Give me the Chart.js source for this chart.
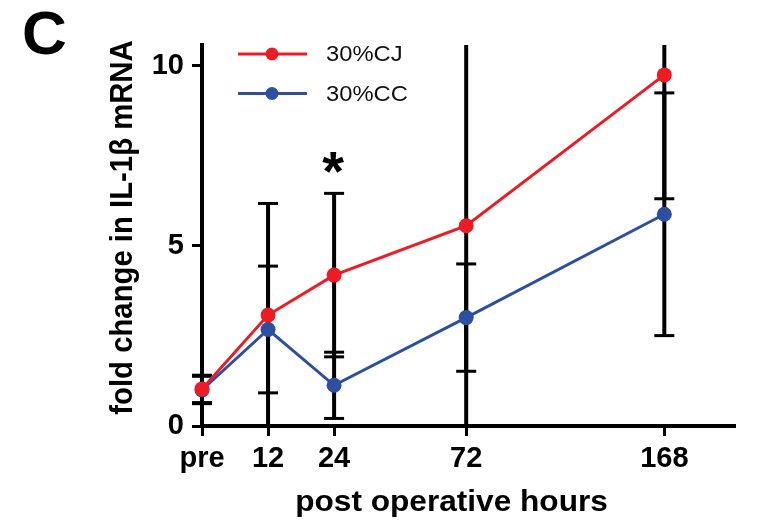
<!DOCTYPE html>
<html><head><meta charset="utf-8">
<script src="https://cdn.jsdelivr.net/npm/chart.js@4.4.1/dist/chart.umd.min.js"></script>
<style>html,body{margin:0;padding:0;background:#fff;} #wrap{width:759px;height:523px;position:relative;}</style>
</head><body><div id="wrap"><canvas id="c" width="759" height="523"></canvas></div>
<script>
// ---- data ----
const hourLabels = ['pre', '12', '24', '72', '168'];
const hourPos = [0, 1, 2, 4, 7];
const seriesNames = ['30%CJ', '30%CC'];
const cjMean = [1.03, 3.08, 4.19, 5.56, 9.75];
const cjSd   = [0.38, 3.10, 2.27, 6.00, 3.44];
const ccMean = [1.00, 2.68, 1.13, 3.01, 5.88];
const ccSd   = [0.38, 1.76, 0.92, 1.49, 3.37];
const yTicks = [0, 5, 10];
const xTitle = 'post operative hours';
const yTitle = 'fold change in IL-1β mRNA';
const panelLabel = 'C';
const sigIndex = [2];
const sigText = '*';

const RED = '#ED1C24';
const BLUE = '#2D4FA0';
const FONT = "'Liberation Sans', Arial, sans-serif";

const sds = [cjSd, ccSd];

const errorBars = {
  id: 'errorBars',
  beforeDatasetsDraw(chart) {
    const ctx = chart.ctx, xs = chart.scales.x, ys = chart.scales.y, a = chart.chartArea;
    ctx.save();
    ctx.strokeStyle = '#000';
    chart.data.datasets.forEach((ds, di) => {
      ds.data.forEach((p, i) => {
        const sd = sds[di][i];
        const x = xs.getPixelForValue(p.x);
        const hi = p.y + sd, lo = p.y - sd;
        const yHi = Math.max(ys.getPixelForValue(hi), a.top);
        const yLo = Math.min(ys.getPixelForValue(lo), a.bottom);
        ctx.lineWidth = 4;
        ctx.beginPath(); ctx.moveTo(x, yHi); ctx.lineTo(x, yLo); ctx.stroke();
        ctx.lineWidth = 3;
        [hi, lo].forEach(v => {
          const yy = ys.getPixelForValue(v);
          if (yy >= a.top && yy <= a.bottom) {
            ctx.beginPath(); ctx.moveTo(x - 10, yy); ctx.lineTo(x + 10, yy); ctx.stroke();
          }
        });
      });
    });
    ctx.restore();
  }
};

const decorations = {
  id: 'decorations',
  afterDraw(chart) {
    const ctx = chart.ctx, xs = chart.scales.x, ys = chart.scales.y, a = chart.chartArea;
    ctx.save();
    ctx.fillStyle = '#000';
    // panel label
    ctx.font = 'bold 62px ' + FONT;
    ctx.textAlign = 'left'; ctx.textBaseline = 'alphabetic';
    ctx.fillText(panelLabel, 22, 54);
    // x title
    ctx.save();
    ctx.translate((a.left + a.right) / 2 - 17, 511);
    ctx.scale(1.09, 1);
    ctx.font = 'bold 29px ' + FONT;
    ctx.textAlign = 'center';
    ctx.fillText(xTitle, 0, 0);
    ctx.restore();
    // y title
    ctx.save();
    ctx.translate(132, (a.top + a.bottom) / 2 - 8);
    ctx.scale(1.1, 1);
    ctx.rotate(-Math.PI / 2);
    ctx.font = 'bold 29.3px ' + FONT;
    ctx.textAlign = 'center';
    ctx.fillText(yTitle, 0, 0);
    ctx.restore();
    // significance mark
    ctx.font = 'bold 56px ' + FONT;
    ctx.textAlign = 'center';
    const m = ctx.measureText(sigText);
    sigIndex.forEach(i => {
      const x = xs.getPixelForValue(hourPos[i]);
      const top = ys.getPixelForValue(cjMean[i] + cjSd[i]) - 41;
      ctx.fillText(sigText, x - 1, top + m.actualBoundingBoxAscent);
    });
    // legend
    chart.data.datasets.forEach((ds, di) => {
      const y = 54 + di * 39.5;
      ctx.strokeStyle = ds.borderColor; ctx.lineWidth = 3;
      ctx.beginPath(); ctx.moveTo(238, y); ctx.lineTo(307, y); ctx.stroke();
      ctx.fillStyle = ds.borderColor;
      ctx.beginPath(); ctx.arc(272, y, 6.5, 0, Math.PI * 2); ctx.fill();
      ctx.save();
      ctx.translate(326, y);
      ctx.scale(1.08, 1);
      ctx.fillStyle = '#111';
      ctx.font = '22px ' + FONT;
      ctx.textAlign = 'left'; ctx.textBaseline = 'middle';
      ctx.fillText(ds.label, 0, 1);
      ctx.restore();
    });
    ctx.restore();
  }
};

const mk = (name, mean, color) => ({
  label: name,
  data: hourPos.map((x, i) => ({ x, y: mean[i] })),
  borderColor: color,
  backgroundColor: color,
  pointBackgroundColor: color,
  pointBorderColor: color,
  borderWidth: 3,
  pointRadius: 7.5,
  pointBorderWidth: 0,
  tension: 0,
  clip: false
});

new Chart(document.getElementById('c'), {
  type: 'line',
  data: { datasets: [mk(seriesNames[0], cjMean, RED), mk(seriesNames[1], ccMean, BLUE)] },
  options: {
    responsive: false,
    devicePixelRatio: 1,
    animation: false,
    layout: { padding: { top: 45, right: 24, left: 0, bottom: 0 } },
    plugins: { legend: { display: false }, tooltip: { enabled: false } },
    scales: {
      x: {
        type: 'linear', min: 0, max: 8.07,
        afterBuildTicks: s => { s.ticks = hourPos.map(v => ({ value: v })); },
        afterFit: s => { s.height = 97; },
        ticks: {
          autoSkip: false, maxRotation: 0, padding: 6, color: '#000',
          font: { family: FONT, size: 29, weight: 'bold' },
          callback: (v, i) => hourLabels[i]
        },
        grid: { drawOnChartArea: false, drawTicks: true, tickLength: 10, tickWidth: 3, tickColor: '#000' },
        border: { display: true, color: '#000', width: 4 }
      },
      y: {
        type: 'linear', min: 0, max: 10.58,
        afterBuildTicks: s => { s.ticks = yTicks.map(v => ({ value: v })); },
        afterFit: s => { s.width = 202; },
        ticks: {
          padding: 8, color: '#000',
          font: { family: FONT, size: 29, weight: 'bold' },
          callback: v => String(v)
        },
        grid: { drawOnChartArea: false, drawTicks: true, tickLength: 10, tickWidth: 3, tickColor: '#000' },
        border: { display: true, color: '#000', width: 4 }
      }
    }
  },
  plugins: [errorBars, decorations]
});
</script></body></html>
